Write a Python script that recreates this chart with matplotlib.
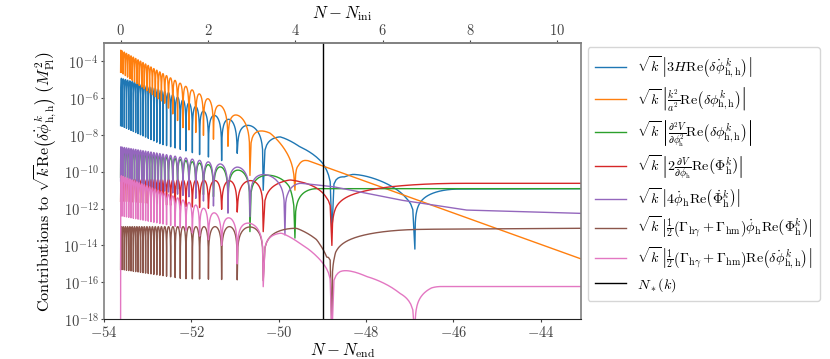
import numpy as np
import matplotlib
matplotlib.use("Agg")
import matplotlib.pyplot as plt
from matplotlib.ticker import FixedLocator, FuncFormatter, NullLocator

plt.rcParams['mathtext.fontset'] = 'cm'
plt.rcParams['font.family'] = ['DejaVu Serif']

# N - N_end of the start of the run and of horizon exit N_*(k)
N_INI = -53.62
N_STAR = -48.98
N_LAST = -43.08

# zeros of Re(delta phi) (field-like) and of its derivative (velocity-like),
# read off the dips of the orange and blue curves
field_nodes = [-53.611, -53.561, -53.510, -53.460, -53.407, -53.355, -53.302,
               -53.247, -53.192, -53.135, -53.078, -53.018, -52.957, -52.892,
               -52.826, -52.757, -52.686, -52.611, -52.524, -52.426, -52.316,
               -52.192, -52.055, -51.899, -51.723, -51.494, -51.162, -50.659]
vel_nodes = [-53.586, -53.535, -53.485, -53.434, -53.381, -53.328, -53.275,
             -53.220, -53.164, -53.106, -53.048, -52.987, -52.924, -52.859,
             -52.792, -52.722, -52.649, -52.568, -52.475, -52.371, -52.254,
             -52.124, -51.977, -51.812, -51.609, -51.307, -50.950, -50.355]

# blue: 3H Re(d delta phi)
blue_late = [-48.783, -46.883]
blue_env_n = [-53.62, -52.53, -52.19, -51.87, -51.69, -51.46, -51.07, -50.73,
              -49.97, -49.52, -48.99, -48.49, -48.30, -47.52, -47.07, -46.88, -43.08]
blue_env = [-4.92, -5.7, -6.1, -6.5, -6.75, -6.95, -7.2, -7.45,
            -7.95, -8.64, -9.16, -9.95, -10.0, -10.6, -10.95, -10.95, -10.92]
blue_floor_n = [-53.62, -52.7, -51.3, -50.95, -50.36, -48.78, -46.88, -43.08]
blue_floor = [-7.5, -8.5, -9.4, -9.0, -11.0, -13.3, -14.2, -14.2]

# orange: k^2/a^2 Re(delta phi)
orange_late = [-49.629]
orange_env_n = [-53.62, -50.66, -50.2, -49.63, -49.55, -49.33, -43.08]
orange_env = [-3.40, -7.3, -7.9, -9.1, -9.35, -9.40, -14.73]
orange_floor_n = [-53.62, -52.6, -52.2, -51.2, -50.66, -49.63, -43.08]
orange_floor = [-4.6, -6.3, -7.6, -8.5, -10.2, -11.0, -16.0]

# green: V'' Re(delta phi)
green_late = [-49.629]
green_env_n = [-53.62, -50.96, -50.28, -49.75, -49.60, -43.08]
green_env = [-8.75, -9.9, -10.15, -10.4, -10.92, -10.92]
green_floor_n = [-53.62, -51.2, -50.66, -49.63, -43.08]
green_floor = [-10.3, -11.5, -13.25, -13.6, -14.0]

# red: 2 V' Re(Phi)
red_late = [-48.783]
red_env_n = [-53.62, -50.9, -49.74, -49.52, -49.13, -48.9, -48.7, -43.08]
red_env = [-10.4, -10.5, -10.42, -10.54, -10.7, -10.8, -10.63, -10.63]
red_floor_n = [-53.62, -51.0, -50.36, -48.78, -43.08]
red_floor = [-11.6, -12.1, -13.25, -14.0, -14.0]

# purple: 4 phidot Re(dPhi)
purple_late = [-49.858]
purple_env_n = [-53.62, -50.96, -50.36, -49.9, -49.8, -49.52, -48.76, -47.23, -45.71, -43.08]
purple_env = [-8.65, -9.73, -10.12, -10.4, -10.6, -10.62, -10.81, -11.53, -12.08, -12.26]
purple_floor_n = [-53.62, -51.8, -51.16, -50.66, -49.86, -43.08]
purple_floor = [-10.5, -11.5, -12.25, -12.44, -13.43, -13.5]

# brown: Gamma phidot Re(Phi)
brown_late = [-48.783]
brown_env_n = [-53.62, -50.9, -49.59, -49.13, -48.9, -48.7, -46.5, -43.08]
brown_env = [-12.98, -12.98, -13.07, -13.5, -14.0, -13.2, -13.12, -13.07]
brown_floor_n = [-53.62, -52.2, -50.36, -48.78, -43.08]
brown_floor = [-15.3, -15.8, -15.9, -19.0, -19.0]

# pink: Gamma Re(d delta phi)
pink_late = [-48.783, -46.883]
pink_env_n = [-53.62, -51.8, -51.3, -50.66, -49.94, -49.52, -49.13, -48.99, -48.78,
              -48.6, -47.99, -47.23, -46.88, -46.5, -43.08]
pink_env = [-10.2, -11.9, -12.4, -12.8, -13.2, -13.88, -14.4, -14.57, -14.75,
            -14.9, -15.67, -16.33, -16.4, -16.23, -16.23]
pink_floor_n = [-53.622, -53.60, -52.3, -51.3, -50.95, -50.36, -48.78, -43.08]
pink_floor = [-19.0, -12.4, -13.0, -14.0, -15.0, -16.23, -19.0, -19.0]

labels = [
    r'$\sqrt{k}\,\left|3H\mathrm{Re}\left(\dot{\delta\phi}^{\,k}_{\mathrm{h,h}}\right)\right|$',
    r'$\sqrt{k}\,\left|\frac{k^2}{a^2}\mathrm{Re}\left(\delta\phi^{k}_{\mathrm{h,h}}\right)\right|$',
    r'$\sqrt{k}\,\left|\frac{\partial^2 V}{\partial\phi_{\mathrm{h}}^2}\mathrm{Re}\left(\delta\phi^{k}_{\mathrm{h,h}}\right)\right|$',
    r'$\sqrt{k}\,\left|2\frac{\partial V}{\partial\phi_{\mathrm{h}}}\mathrm{Re}\left(\Phi^{k}_{\mathrm{h}}\right)\right|$',
    r'$\sqrt{k}\,\left|4\dot{\phi}_{\mathrm{h}}\mathrm{Re}\left(\dot{\Phi}^{k}_{\mathrm{h}}\right)\right|$',
    r'$\sqrt{k}\,\left|\frac{1}{2}\left(\Gamma_{\mathrm{h}\gamma}+\Gamma_{\mathrm{hm}}\right)\dot{\phi}_{\mathrm{h}}\mathrm{Re}\left(\Phi^{k}_{\mathrm{h}}\right)\right|$',
    r'$\sqrt{k}\,\left|\frac{1}{2}\left(\Gamma_{\mathrm{h}\gamma}+\Gamma_{\mathrm{hm}}\right)\mathrm{Re}\left(\dot{\delta\phi}^{\,k}_{\mathrm{h,h}}\right)\right|$',
]


def build_curve(nodes, env_n, env, floor_n, floor, rise):
    # arches between zeros, on top of the read envelope, cut at the dip depth
    ns, ls = [], []
    for a, b in zip(nodes[:-1], nodes[1:]):
        t = np.linspace(0, 1, 41)
        n = a + (b - a) * t
        ns.append(n)
        ls.append(np.log10(np.maximum(np.sin(np.pi * t), 1e-30)))
    n = np.linspace(nodes[-1], N_LAST, 400)
    t = np.minimum((n - nodes[-1]) / rise, 1.0)
    ns.append(n)
    ls.append(np.log10(np.maximum(np.sin(0.5 * np.pi * t), 1e-30)))
    n = np.concatenate(ns)
    l = np.concatenate(ls) + np.interp(n, env_n, env)
    l = np.maximum(l, np.interp(n, floor_n, floor))
    return n, 10.0 ** l


curves = [
    (vel_nodes + blue_late, blue_env_n, blue_env, blue_floor_n, blue_floor, 1.0),
    (field_nodes + orange_late, orange_env_n, orange_env, orange_floor_n, orange_floor, 0.25),
    (field_nodes + green_late, green_env_n, green_env, green_floor_n, green_floor, 0.5),
    (vel_nodes + red_late, red_env_n, red_env, red_floor_n, red_floor, 3.0),
    (field_nodes + purple_late, purple_env_n, purple_env, purple_floor_n, purple_floor, 0.4),
    (vel_nodes + brown_late, brown_env_n, brown_env, brown_floor_n, brown_floor, 2.0),
    (vel_nodes + pink_late, pink_env_n, pink_env, pink_floor_n, pink_floor, 0.6),
]

fig = plt.figure(figsize=(8.3, 3.59), dpi=100)
ax = fig.add_axes([0.1253, 0.111, 0.5747, 0.769])

for i, (nodes, en, ev, fn, fv, rise) in enumerate(curves):
    n, y = build_curve([N_INI] + nodes, en, ev, fn, fv, rise)
    ax.plot(n, y, color='C%d' % i, lw=1.0, label=labels[i])

ax.axvline(N_STAR, color='black', lw=1.0, label=r'$N_*(k)$')

ax.set_yscale('log')
ax.set_xlim(-54, N_LAST)
ax.set_ylim(1e-18, 10 ** -3.02)
ax.yaxis.set_major_locator(FixedLocator([10.0 ** e for e in range(-18, -3, 2)]))
ax.yaxis.set_minor_locator(NullLocator())
ax.yaxis.set_major_formatter(FuncFormatter(lambda v, p: r'$10^{%d}$' % round(np.log10(v))))
ax.xaxis.set_major_locator(FixedLocator([-54, -52, -50, -48, -46, -44]))
ax.xaxis.set_major_formatter(FuncFormatter(lambda v, p: r'$%d$' % v))

top = ax.secondary_xaxis('top', functions=(lambda x: x - N_INI, lambda x: x + N_INI))
top.xaxis.set_major_locator(FixedLocator([0, 2, 4, 6, 8, 10]))
top.xaxis.set_major_formatter(FuncFormatter(lambda v, p: r'$%d$' % v))
top.set_xlabel(r'$N-N_{\mathrm{ini}}$', fontsize=12, labelpad=3)

ax.set_xlabel(r'$N-N_{\mathrm{end}}$', fontsize=12, labelpad=1)
ax.set_ylabel(r'$\mathrm{Contributions\ to\ }\sqrt{k}\mathrm{Re}\left(\dot{\delta\phi}^{\,k}_{\mathrm{h,h}}\right)\ \left(M_{\mathrm{Pl}}^2\right)$',
              fontsize=11.5, labelpad=3)

for a in (ax, top):
    a.tick_params(labelsize=10.5, colors='#444444', length=2, pad=2)
for s in ('top', 'left', 'right'):
    ax.spines[s].set_color('#808080')
    ax.spines[s].set_linewidth(1.2)
ax.spines['bottom'].set_color('#222222')
top.spines['top'].set_color('#808080')
top.spines['top'].set_linewidth(1.2)

ax.legend(loc='upper left', bbox_to_anchor=(1.005, 1.0), borderaxespad=0.3,
          fontsize=10.2, handlelength=2.2, labelspacing=0.36, borderpad=0.5)

fig.savefig('out.png', dpi=100)
